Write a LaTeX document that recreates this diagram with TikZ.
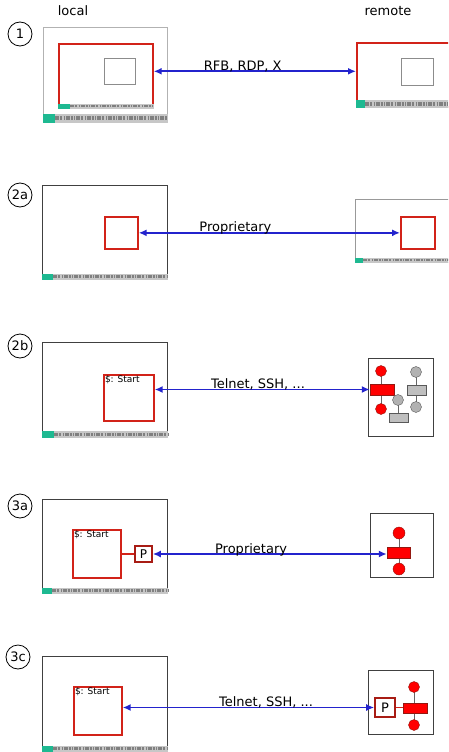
\documentclass[tikz,border=0pt]{standalone}
\usepackage{fontspec}
\setmainfont{DejaVu Sans}
\usepackage{tikz}
\usetikzlibrary{positioning, arrows.meta, calc}

\definecolor{linkblue}{RGB}{35,35,205}
\definecolor{winred}{RGB}{210,35,25}
\definecolor{tray}{RGB}{30,185,145}

\begin{document}
\begin{tikzpicture}[
  x=1pt, y=-1pt,
  font=\fontsize{13}{15}\selectfont,
  sz/.style 2 args={minimum width=#1, minimum height=#2},
  screen/.style={draw=black!75, line width=0.8pt, fill=white, anchor=north west, inner sep=0pt},
  win/.style={draw=winred, line width=1.7pt, fill=white, anchor=north west, inner sep=0pt},
  ghost/.style={draw=black!45, line width=0.6pt, anchor=north west, inner sep=0pt},
  cmd/.style={anchor=north west, inner sep=1.8pt, font=\fontsize{9}{10}\selectfont},
  stepnum/.style={draw, circle, line width=0.8pt, minimum size=24pt, inner sep=0pt},
  dot/.style={circle, fill=red, draw=winred!70!black, inner sep=0pt, minimum size=11pt},
  gdot/.style={circle, fill=black!30, draw=black!65, inner sep=0pt, minimum size=11pt},
  blk/.style={draw=winred!70!black, fill=red, inner sep=0pt},
  gblk/.style={draw=black!65, fill=black!25, inner sep=0pt},
  pbox/.style={draw=winred!80!black, line width=1.6pt, fill=white, inner sep=0pt,
    font=\fontsize{12}{14}\selectfont},
  tie/.style={draw=winred, line width=1.4pt},
  stem/.style={draw=black!60, line width=0.7pt},
  link/.style={<->, >={Latex[length=8pt, width=7pt]},
    line width=1.8pt, draw=linkblue},
  lbl/.style={anchor=base, inner sep=0pt, yshift=1pt},
]
  \clip (0,0) rectangle (448,752);

  \node (local) at (73,11) {local};
  \node (remote) at (388,11) {remote};

  \foreach \n/\x/\y in {1/20/34, 2a/20/195, 2b/20/346, 3a/20/506, 3c/18/657}
    \node[stepnum] (s\n) at (\x,\y) {\n};

  % 1: whole desktop
  \node[screen, draw=black!30, sz={124}{95}] (scr1) at (43,27) {};
  \node[win, sz={94}{64}] (w1) at (58,43) {};
  \node[ghost, sz={31}{26}] (g1) at (104,58) {};
  \node[win, sz={100}{64}] (rw1) at (356,42) {};
  \node[ghost, sz={32}{27}] (rg1) at (401,58) {};
  \draw[link] (w1.east |- g1) -- (rw1.west |- g1)
    node[lbl, pos=0.44] {RFB, RDP, X};

  % 2a: single window
  \node[screen, sz={125}{94}] (scr2a) at (42,185) {};
  \node[win, sz={33}{32}] (w2a) at (104,216) {};
  \node[screen, draw=black!40, sz={97}{63}] (rscr2a) at (355,199) {};
  \node[win, sz={34}{32}] (rw2a) at (400,216) {};
  \draw[link] (w2a) -- (rw2a) node[lbl, pos=0.37] {Proprietary};

  % 2b: terminal
  \node[screen, sz={125}{95}] (scr2b) at (42,342) {};
  \node[win, sz={50}{46}] (w2b) at (103,374) {};
  \node[cmd] (c2b) at (w2b.north west) {\$: Start};
  \node[screen, sz={65}{78}] (rscr2b) at (368,358) {};
  \draw[stem] (381,371) -- (381,409) (398,400) -- (398,417) (416,372) -- (416,407);
  \node[blk, sz={24}{11}] (b2b) at (382,389.5) {};
  \node[dot] (d2b1) at (381,371) {};
  \node[dot] (d2b2) at (381,409) {};
  \node[gdot] (gd2b1) at (398,400) {};
  \node[gblk, sz={19}{9}] (gb2b1) at (398.5,417.5) {};
  \node[gdot] (gd2b2) at (416,372) {};
  \node[gblk, sz={19}{10}] (gb2b2) at (416.5,390) {};
  \node[gdot] (gd2b3) at (416,407) {};
  \draw[link] (w2b.east |- b2b.west) -- (b2b.west)
    node[lbl, pos=0.48] {Telnet, SSH, ...};

  % 3a: proxy on the local side
  \node[screen, sz={125}{94}] (scr3a) at (42,499) {};
  \node[win, sz={48}{48}] (w3a) at (72,529) {};
  \node[cmd] (c3a) at (w3a.north west) {\$: Start};
  \node[pbox, sz={17}{16}] (p3a) at (143.5,554) {P};
  \draw[tie] (w3a.east |- p3a.west) -- (p3a.west);
  \node[screen, sz={63}{64}] (rscr3a) at (370,513) {};
  \draw[stem] (399,533) -- (399,569);
  \node[dot, minimum size=12pt] (d3a1) at (399,533) {};
  \node[dot, minimum size=12pt] (d3a2) at (399,569) {};
  \node[blk, sz={23}{11}] (b3a) at (398.5,552.5) {};
  \draw[link] (p3a.east) -- (p3a.east -| b3a.west)
    node[lbl, pos=0.42] {Proprietary};

  % 3c: proxy on the remote side
  \node[screen, sz={125}{95}] (scr3c) at (42,656) {};
  \node[win, sz={48}{48}] (w3c) at (73,686) {};
  \node[cmd] (c3c) at (w3c.north west) {\$: Start};
  \node[screen, sz={65}{64}] (rscr3c) at (368,670) {};
  \draw[stem] (414,687) -- (414,725);
  \node[pbox, sz={20}{19}, font=\fontsize{13}{15}\selectfont] (p3c) at (385,707.5) {P};
  \node[dot] (d3c1) at (414,687) {};
  \node[dot] (d3c2) at (414,725) {};
  \node[blk, sz={24}{10}] (b3c) at (415,708) {};
  \draw[tie] (p3c.east) -- (p3c.east -| b3c.west);
  \draw[link] (w3c.east |- p3c.west) -- (p3c.west)
    node[lbl, pos=0.57] {Telnet, SSH, ...};

  % task bars
  \foreach \f/\w/\h in {scr1/12/9, w1/12/5, rw1/9/8, scr2a/11/6, rscr2a/8/5,
                        scr2b/12/7, scr3a/10/6, scr3c/11/6}
  {
    \fill[black!22] (\f.south west) rectangle ([yshift=\h pt]\f.south east);
    \draw[black!50, line width=0.45*\h pt, dash pattern=on 4pt off 1pt on 2pt off 1.5pt on 1pt off 1pt]
      ([xshift=\w pt, yshift=0.5*\h pt]\f.south west) -- ([yshift=0.5*\h pt]\f.south east);
    \fill[tray] (\f.south west) rectangle ([xshift=\w pt, yshift=\h pt]\f.south west);
  }
\end{tikzpicture}
\end{document}
